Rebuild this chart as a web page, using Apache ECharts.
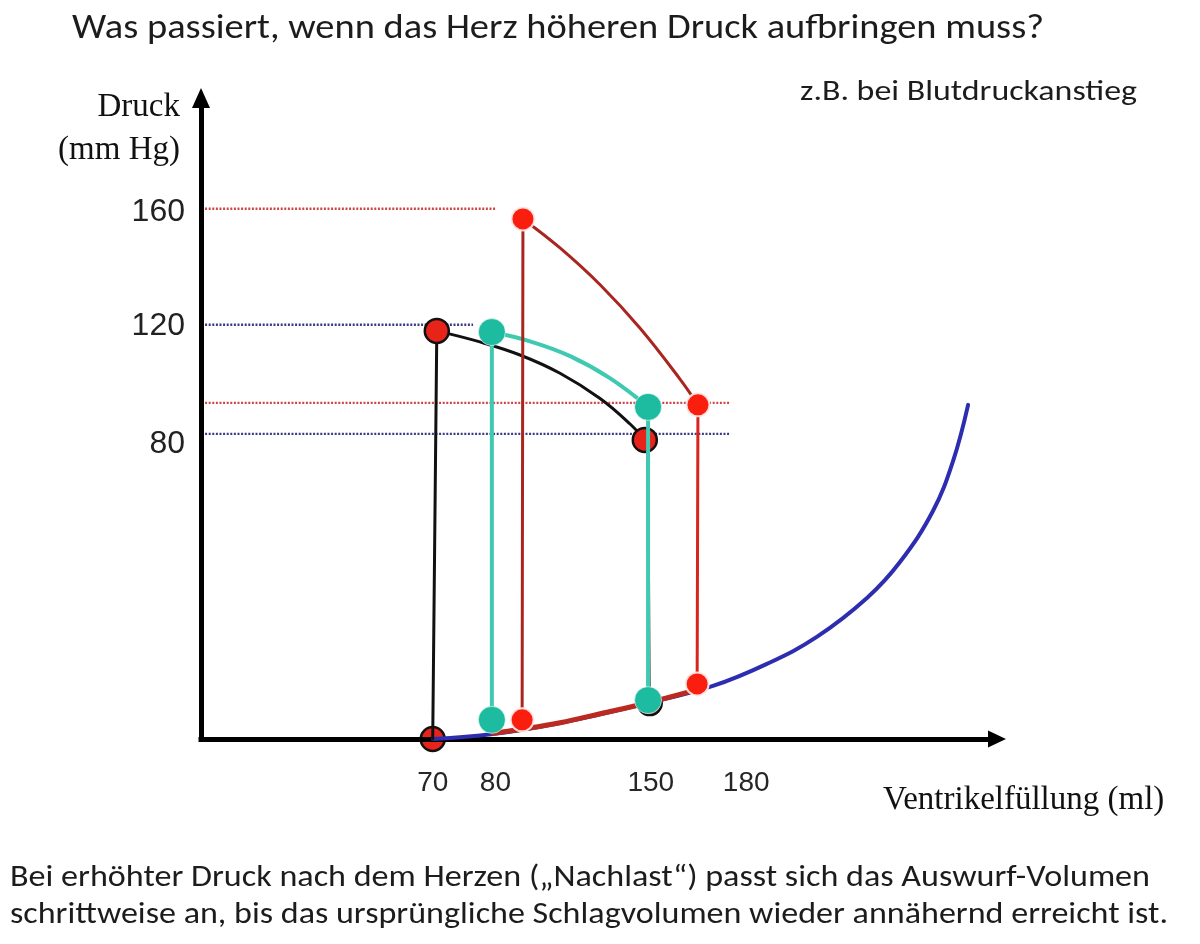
<!DOCTYPE html>
<html>
<head>
<meta charset="utf-8">
<script src="https://cdn.jsdelivr.net/npm/echarts@6/dist/echarts.min.js"></script>
<style>
  html, body { margin: 0; padding: 0; background: #ffffff; }
  #chart { width: 1200px; height: 944px; }
</style>
</head>
<body>
<div id="chart"></div>
<script>
// ---------------- DATA (schematic units) ----------------
// x ≈ ventricular filling (ml, drawn scale), y ≈ pressure (mm Hg, drawn scale)
const xTickValues = [70, 93, 150, 185];
const xTickLabels = ['70', '80', '150', '180'];
const yTickValues = [158.6, 119.2, 78.8];
const yTickLabels = ['160', '120', '80'];

// Filling curve (passive pressure-volume relation)
const fillingCurve = [[70, -23], [92.1, -21.3], [116.7, -17.5], [149, -10.6], [172.8, -4.7],
  [192.6, 2.9], [210.9, 12.2], [229.3, 25.6], [241.4, 38], [253.5, 55.6], [260.9, 72.9], [266.4, 92.2]];
// Portion of the filling curve used by the red loop
const redFilling = [[92.1, -21], [102, -19.7], [116.7, -17.4], [131.4, -14.3], [149, -10.5], [167, -6]];

// Black loop (baseline)
const blackPoints = [[71.5, 117.7], [147.8, 80.1], [149.6, -10.6]];
const blackStart = [[70, -23]];
const blackLeft = [[70, -23], [71.5, 117.7]];
const blackRight = [[148.9, 80.1], [149.4, -10.6]];
const blackTop = [[71.5, 117.7], [87.3, 113.9], [102, 109.4], [116.7, 103.1], [131.4, 94.4],
  [142.4, 85.6], [147.8, 80.1]];

// Teal loop
const tealPoints = [[91.7, -16.4], [91.7, 117.3], [149, 91.5], [149, -9.6]];
const tealLeft = [[91.7, -16.4], [91.7, 117.3]];
const tealRight = [[149, 91.5], [149, -9.6]];
const tealTop = [[91.7, 117.3], [105.7, 114.1], [120.4, 109], [135, 101.4], [149, 91.5]];

// Red loop (higher afterload)
const redPoints = [[102.8, -16.4], [103.1, 156.3], [167.3, 92.2], [167, -4.0]];
const redLeft = [[102.8, -16.4], [103.1, 156.3]];
const redRight = [[167.3, 92.2], [167, -4.0]];
const redTop = [[103.1, 156.3], [116.7, 146.3], [131.4, 133.6], [146, 118.7], [160.7, 101.1],
  [167.3, 92.2]];

// Dotted pressure reference lines
const ref160 = [[-13.5, 159.8], [92.9, 159.8]];
const ref120 = [[-13.5, 119.8], [84.8, 119.8]];
const refRedMid = [[-13.5, 92.9], [179.1, 92.9]];
const ref80 = [[-13.5, 82.2], [179.1, 82.2]];

// Texts
const titleText = 'Was passiert, wenn das Herz höheren Druck aufbringen muss?';
const subtitleText = 'z.B. bei Blutdruckanstieg';
const noteLines = [
  'Bei erhöhter Druck nach dem Herzen („Nachlast“) passt sich das Auswurf-Volumen',
  'schrittweise an, bis das ursprüngliche Schlagvolumen wieder annähernd erreicht ist.'
];
const yNameLines = ['Druck', '(mm Hg)'];
const xNameText = 'Ventrikelfüllung (ml)';

// ---------------- STYLE / LAYOUT ----------------
const SANS = 'Carlito, Lato, "Open Sans", sans-serif';
const SERIF = '"Liberation Serif", "Times New Roman", serif';
const ARIAL = '"Liberation Sans", Arial, sans-serif';
const C = {
  text: '#1c1c1c', red: '#fa1e0e', redDark: '#a8261f', redLine: '#d8241a', redFill: '#bb2a20',
  teal: '#1dbb9f', tealLine: '#40c9b1', blue: '#2d2db0', navyDot: '#3b3b82', redDot: '#cc4848'
};
const SMOOTH = 0.4;

const mctx = document.createElement('canvas').getContext('2d');
function fitScale(text, size, family, width) {
  mctx.font = size + 'px ' + family;
  const w = mctx.measureText(text).width;
  return w > 0 ? width / w : 1;
}
function textEl(text, x, y, size, family, align, fill, targetWidth) {
  const el = {
    type: 'text', x: x, y: y, silent: true,
    style: { text: text, fontSize: size, fontFamily: family, fill: fill,
      textAlign: align, align: align, textVerticalAlign: 'middle', verticalAlign: 'middle' }
  };
  if (targetWidth) el.scaleX = fitScale(text, size, family, targetWidth);
  return el;
}

function lineS(data, color, width, z, opts) {
  return Object.assign({
    type: 'line', data: data, z: z, symbol: 'none', silent: true, clip: false,
    animation: false, lineStyle: { color: color, width: width, cap: 'round', join: 'round' }
  }, opts || {});
}
function dotS(data, fill, size, border, bw, z) {
  return {
    type: 'scatter', data: data, z: z, symbolSize: size, silent: true, clip: false, animation: false,
    itemStyle: { color: fill, borderColor: border, borderWidth: bw, opacity: 1 }
  };
}
const dotted = (data, color) => lineS(data, color, 2.4, 1, { lineStyle: { color: color, width: 2.4, type: [2, 1.6], cap: 'butt' } });

const chart = echarts.init(document.getElementById('chart'), null, { renderer: 'canvas' });
chart.setOption({
  animation: false,
  backgroundColor: '#ffffff',
  grid: { left: 201, right: 203, top: 98, bottom: 205, outerBoundsMode: 'none', containLabel: false },
  xAxis: {
    type: 'value', min: -15, max: 277,
    axisLine: { show: true, onZero: false, symbol: ['none', 'triangle'], symbolSize: [17, 18],
      lineStyle: { color: '#000', width: 5, cap: 'square' } },
    axisTick: { show: false }, splitLine: { show: false },
    axisLabel: {
      customValues: xTickValues, margin: 30, fontSize: 28, fontFamily: ARIAL, color: '#262626',
      formatter: v => { const i = xTickValues.indexOf(v); return i >= 0 ? xTickLabels[i] : ''; }
    }
  },
  yAxis: {
    type: 'value', min: -23, max: 198,
    axisLine: { show: true, onZero: false, symbol: ['none', 'triangle'], symbolSize: [18, 20],
      lineStyle: { color: '#000', width: 5, cap: 'square' } },
    axisTick: { show: false }, splitLine: { show: false },
    axisLabel: {
      customValues: yTickValues, margin: 16, fontSize: 32, fontFamily: ARIAL,
      color: v => (yTickValues.indexOf(v) === 0 ? '#b3322c' : '#222222'),
      formatter: v => { const i = yTickValues.indexOf(v); return i >= 0 ? yTickLabels[i] : ''; }
    }
  },
  series: [
    dotted(ref160, C.redDot),
    dotted(ref120, C.navyDot),
    dotted(refRedMid, C.redDot),
    dotted(ref80, C.navyDot),
    lineS(fillingCurve, C.blue, 4, 2, { smooth: SMOOTH }),
    dotS(blackStart, '#e8241a', 24, '#111', 2.5, -1),
    lineS(blackLeft, '#111', 3, 3),
    lineS(blackRight, '#111', 3, 3),
    lineS(blackTop, '#111', 3, 3, { smooth: SMOOTH }),
    dotS(blackPoints, '#e8241a', 24, '#111', 2.5, 4),
    lineS(redFilling, C.redFill, 5, 5, { smooth: SMOOTH }),
    lineS(tealLeft, C.tealLine, 4, 6),
    lineS(tealRight, C.tealLine, 4, 6),
    lineS(tealTop, C.tealLine, 4, 6, { smooth: SMOOTH }),
    dotS(tealPoints, C.teal, 27, 'rgba(255,255,255,0.6)', 1, 7),
    lineS(redLeft, C.redDark, 3, 8),
    lineS(redRight, C.redLine, 3, 8),
    lineS(redTop, C.redDark, 3, 8, { smooth: SMOOTH }),
    dotS(redPoints, C.red, 23, 'rgba(255,235,235,0.9)', 2, 9)
  ],
  graphic: { elements: [
    textEl(titleText, 72, 29, 34, SANS, 'left', C.text, 972),
    textEl(subtitleText, 800, 93, 28, SANS, 'left', C.text, 337),
    textEl(yNameLines[0], 180, 107, 33, SERIF, 'right', '#111111'),
    textEl(yNameLines[1], 180, 150, 33, SERIF, 'right', '#111111'),
    textEl(xNameText, 883, 800, 33, SERIF, 'left', '#111111'),
    textEl(noteLines[0], 10, 878, 30, SANS, 'left', C.text, 1140),
    textEl(noteLines[1], 10, 915, 30, SANS, 'left', C.text, 1158)
  ] }
});
</script>
</body>
</html>
